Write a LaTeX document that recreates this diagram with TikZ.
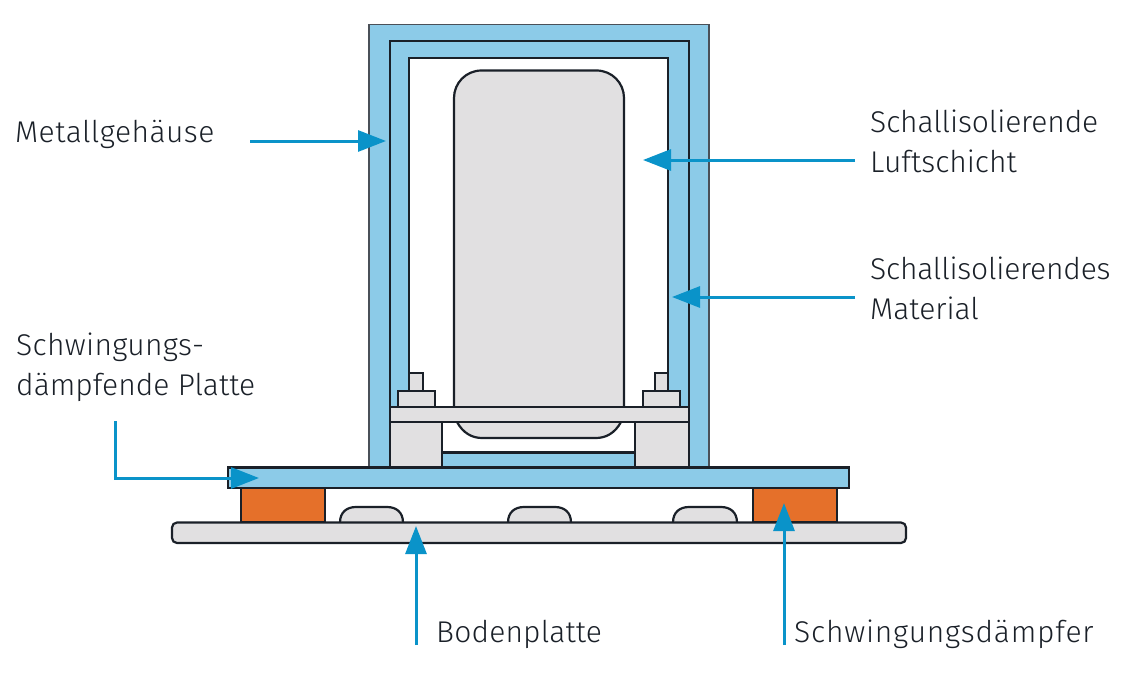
\documentclass[tikz,border=0pt]{standalone}
\usepackage{fontspec}
\setmainfont{Fira Sans}[UprightFont=* Light]
\usetikzlibrary{arrows.meta}
\definecolor{ink}{HTML}{1A2028}
\definecolor{edgegrey}{HTML}{4A5058}
\definecolor{steel}{HTML}{8CCBE8}
\definecolor{pale}{HTML}{E1E0E1}
\definecolor{rust}{HTML}{E5702A}
\definecolor{pointer}{HTML}{0A93C9}
\tikzset{
  x=1pt,y=-1pt,
  part/.style={draw=ink,line width=2.2pt,line join=miter},
  bluepart/.style={part,fill=steel},
  greypart/.style={part,fill=pale},
  rustpart/.style={part,fill=rust},
  pointerline/.style={draw=pointer,line width=3pt,-{Triangle[length=28pt,width=21pt]}},
  label/.style={font=\fontsize{30}{40}\selectfont,text=ink,inner sep=0pt,align=left,anchor=west}
}
\begin{document}
\begin{tikzpicture}
\useasboundingbox (0,0) rectangle (1121,688);
% housing
\fill[steel] (369,467) |- (709,24.5) |- cycle;
\draw[draw=edgegrey,line width=1.8pt] (369,467) |- (709,24.5) -- (709,467);
\draw[part] (390,467) |- (689,41) -- (689,467);
\filldraw[part,fill=white] (409,407) |- (668,58) -- (668,407);
% equipment
\filldraw[greypart] (454,407) -- (454,98) .. controls (454,83) and (466,70.5) .. (481.5,70.5) -- (596.5,70.5) .. controls (612,70.5) and (624,83) .. (624,98) -- (624,407);
% lower space
\fill[white] (442,422) rectangle (635,452);
\filldraw[greypart] (457,422) .. controls (463,433) and (472,438) .. (482,438) -- (596,438) .. controls (606,438) and (615,433) .. (621,422);
\filldraw[bluepart] (442,452.5) rectangle (635,467);
\filldraw[greypart] (390,422) rectangle (442,467);
\filldraw[greypart] (635,422) rectangle (689,467);
\filldraw[greypart] (390,407) rectangle (689,422);
% bolts
\filldraw[greypart] (409,391) rectangle (423,373);
\filldraw[greypart] (398,407) rectangle (435,391);
\filldraw[greypart] (655,391) rectangle (668,373);
\filldraw[greypart] (643,407) rectangle (680,391);
% base
\filldraw[rustpart] (241,488) rectangle (325,522.5);
\filldraw[rustpart] (753,488) rectangle (837,522.5);
\filldraw[greypart] (340,522.5) .. controls (340,512) and (347,507) .. (356,507) -- (387,507) .. controls (396,507) and (403,512) .. (403,522.5);
\filldraw[greypart] (508,522.5) .. controls (508,512) and (515,507) .. (524,507) -- (555,507) .. controls (564,507) and (571,512) .. (571,522.5);
\filldraw[greypart] (673,522.5) .. controls (673,512) and (680,507) .. (689,507) -- (721,507) .. controls (730,507) and (737,512) .. (737,522.5);
\filldraw[bluepart] (228,467.5) rectangle (849,488);
\filldraw[greypart,rounded corners=5pt] (172,522.5) rectangle (906,543);
% targets and starts
\coordinate (tMetall) at (386,141);
\coordinate (sMetall) at (250,141);
\coordinate (tLuft) at (643,160);
\coordinate (sLuft) at (855,160);
\coordinate (tMat) at (672,297);
\coordinate (sMat) at (855,297);
\coordinate (tPlatte) at (259,478);
\coordinate (sPlatte) at (115,421);
\coordinate (tBoden) at (416,526);
\coordinate (sBoden) at (416,645);
\coordinate (tDaempfer) at (784,503);
\coordinate (sDaempfer) at (784,645);
\draw[pointerline] (sMetall) -- (tMetall);
\draw[pointerline] (sLuft) -- (tLuft);
\draw[pointerline] (sMat) -- (tMat);
\draw[pointerline] (sPlatte) |- (tPlatte);
\draw[pointerline] (sBoden) -- (tBoden);
\draw[pointerline] (sDaempfer) -- (tDaempfer);
% labels
\node[label] (lMetall) at (15,134) {\addfontfeature{LetterSpace=1.5}Metallgehäuse};
\node[label] (lLuft) at (870,141) {\addfontfeature{LetterSpace=-0.4}Schallisolierende\\Luftschicht};
\node[label] (lMat) at (870,288) {\addfontfeature{LetterSpace=-0.7}Schallisolierendes\\Material};
\node[label] (lPlatte) at (16,367) {\addfontfeature{LetterSpace=1}Schwingungs-\\dämpfende Platte};
\node[label] (lBoden) at (436,634) {\addfontfeature{LetterSpace=0.5}Bodenplatte};
\node[label] (lDaempfer) at (794,634) {\addfontfeature{LetterSpace=2.6}Schwingungsdämpfer};
\end{tikzpicture}
\end{document}
